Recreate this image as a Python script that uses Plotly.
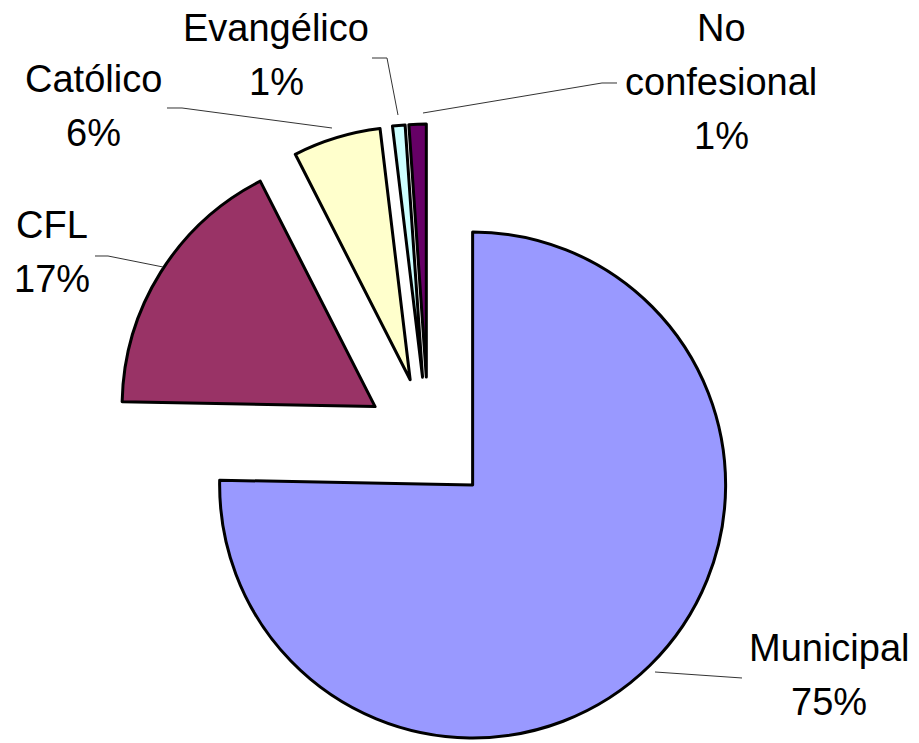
import math
import plotly.graph_objects as go

# ---- data ----
labels = ["Municipal", "CFL", "Católico", "Evangélico", "No confesional"]
values = [75.3, 17.2, 5.6, 0.8, 1.1]
label_lines = [["Municipal"], ["CFL"], ["Católico"], ["Evangélico"], ["No", "confesional"]]
colors = ["#9999FF", "#993366", "#FFFFCC", "#CCFFFF", "#660066"]

# ---- layout constants (pixels, in window coordinates) ----
OFF = 8                   # page body margin
W, H = 919 - OFF, 743 - OFF
CX, CY = 428.5, 440.0     # centre of the un-exploded pie
R = 253.0                 # pie radius
EXPLODE = 63.0            # explode distance of every slice
FONT = dict(family="Liberation Sans, Arial, sans-serif", size=38, color="black")
LINE_GAP = 54.0

# label text positions (centre of first line) and leader lines, in pixels
label_pos = [(829, 647.5), (52, 225), (93, 78.5), (276, 28.5), (721, 28.5)]
leaders = [
    [(655, 672), (742, 678)],
    [(95, 256), (108, 256), (163, 267)],
    [(167, 108), (182, 108), (332, 128)],
    [(372, 58), (387, 58), (398, 115)],
    [(423, 113), (602, 83), (617, 83)],
]


def px(x):
    return (x - OFF) / W


def py(y):
    return 1 - (y - OFF) / H


total = sum(values)
fig = go.Figure()
cum = 0.0
for i, v in enumerate(values):
    mid = (cum + v / 2) / total * 2 * math.pi
    cum += v
    vx = CX + EXPLODE * math.sin(mid)
    vy = CY - EXPLODE * math.cos(mid)
    cols = ["rgba(0,0,0,0)"] * len(values)
    cols[i] = colors[i]
    widths = [0] * len(values)
    widths[i] = 3
    fig.add_trace(go.Pie(
        labels=labels,
        values=values,
        sort=False,
        direction="clockwise",
        rotation=0,
        textinfo="none",
        hoverinfo="label+percent",
        showlegend=False,
        marker=dict(colors=cols, line=dict(color="black", width=widths)),
        domain=dict(x=[px(vx - R), px(vx + R)], y=[py(vy + R), py(vy - R)]),
    ))

annotations = []
for i, v in enumerate(values):
    pct = f"{round(v / total * 100)}%"
    lines = label_lines[i] + [pct]
    x0, y0 = label_pos[i]
    for k, t in enumerate(lines):
        annotations.append(dict(
            x=px(x0), y=py(y0 + k * LINE_GAP), xref="paper", yref="paper",
            text=t, showarrow=False, xanchor="center", yanchor="middle",
            font=FONT,
        ))

shapes = []
for pts in leaders:
    path = "M " + " L ".join(f"{px(x):.5f},{py(y):.5f}" for x, y in pts)
    shapes.append(dict(type="path", xref="paper", yref="paper", path=path,
                       line=dict(color="#333333", width=1)))

fig.update_layout(
    width=W, height=H,
    margin=dict(l=0, r=0, t=0, b=0),
    paper_bgcolor="white", plot_bgcolor="white",
    annotations=annotations, shapes=shapes,
)

fig.write_html("out.html")
